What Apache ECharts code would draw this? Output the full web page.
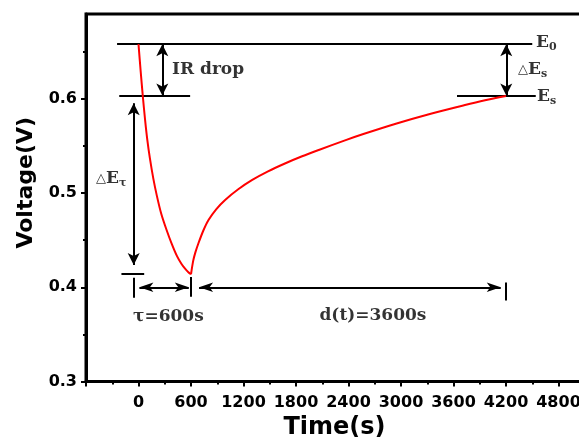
<!DOCTYPE html>
<html><head><meta charset="utf-8">
<script src="https://cdn.jsdelivr.net/npm/echarts@6/dist/echarts.min.js"></script>
<style>html,body{margin:0;padding:0;background:#fff}#c{width:579px;height:437px}</style>
</head><body><div id="c"></div>
<script>
// ---- data ----
const xTicks = [0, 600, 1200, 1800, 2400, 3000, 3600, 4200, 4800];
const yTicks = [0.3, 0.4, 0.5, 0.6];
const yMinorTicks = [0.35, 0.45, 0.55, 0.65];

const dischargeTime = [0, 25, 50, 75, 100, 130, 170, 210, 260, 320, 380, 440, 490, 530, 570, 600];
const dischargeV    = [0.658, 0.629, 0.602, 0.578, 0.557, 0.537, 0.515, 0.497, 0.478, 0.461, 0.446, 0.433, 0.425, 0.420, 0.416, 0.4138];

const recoveryTime = [600, 625, 650, 685, 740, 800, 890, 990, 1140, 1300, 1480, 1680, 1870, 2060, 2360, 2570, 2950, 3330, 3720, 3960, 4200];
const recoveryV    = [0.4138, 0.428, 0.437, 0.4467, 0.460, 0.4714, 0.4830, 0.4927, 0.5040, 0.5139, 0.5230, 0.5316, 0.5390, 0.5457, 0.5559, 0.5626, 0.5738, 0.5839, 0.5931, 0.5984, 0.6030];

// annotation geometry in data units
const hLines  = [[-245, 4500, 0.658], [-220, 590, 0.6034], [3640, 4540, 0.6034], [-195, 65, 0.4145]]; // [t1, t2, V]
const vTicks  = [[-55, 0.410, 0.389], [600, 0.411, 0.390], [4200, 0.405, 0.386]];                       // [t, V1, V2]
const vArrows = [[272, 0.658, 0.6034], [4203, 0.658, 0.6034], [-55, 0.5953, 0.4237]];                  // [t, V1, V2]
const hArrows = [[10, 575, 0.4], [692, 4140, 0.4]];                                                     // [t1, t2, V]
const notes = [
  ['{m|IR drop}', 383, 0.6312],
  ['{m|E}{s|0}', 4543, 0.6593],
  ['{t|△}{m|E}{s|s}', 4337, 0.6307],
  ['{m|E}{s|s}', 4554, 0.602],
  ['{t|△}{m|E}{s|τ}', -486, 0.515],
  ['{m|τ=600s}', -63, 0.3685],
  ['{m|d(t)=3600s}', 2068, 0.3695]
];

// ---- build ----
const zip = (a, b) => a.map((v, i) => [v, b[i]]);
const mlData = [];
hLines.forEach(h => mlData.push([{coord: [h[0], h[2]], symbol: 'none'}, {coord: [h[1], h[2]], symbol: 'none'}]));
vTicks.forEach(v => mlData.push([{coord: [v[0], v[1]], symbol: 'none'}, {coord: [v[0], v[2]], symbol: 'none'}]));
vArrows.forEach(v => mlData.push([
  {coord: [v[0], v[1]], symbol: 'arrow', symbolSize: [9, 12]},
  {coord: [v[0], v[2]], symbol: 'arrow', symbolSize: [9, 12]}]));
hArrows.forEach(h => mlData.push([
  {coord: [h[0], h[2]], symbol: 'arrow', symbolSize: [7, 14]},
  {coord: [h[1], h[2]], symbol: 'arrow', symbolSize: [7, 14]}]));

const serif = {fontFamily: 'DejaVu Serif', fontWeight: 'bold', color: '#000'};
const sansB = {fontFamily: 'DejaVu Sans', fontWeight: 'bold', color: '#000'};

const chart = echarts.init(document.getElementById('c'), null, {renderer: 'canvas'});
chart.setOption({
  animation: false,
  backgroundColor: '#fff',
  grid: {left: 86, right: -32, top: 14, bottom: 55.5, containLabel: false, outerBoundsMode: 'none',
         show: true, borderColor: '#000', borderWidth: 3},
  xAxis: {
    type: 'value', min: -600, max: 5400, interval: 600,
    name: 'Time(s)', nameLocation: 'middle', nameGap: 30,
    nameTextStyle: Object.assign({fontSize: 24, padding: [0, 28, 0, 0]}, sansB),
    axisLine: {onZero: false, lineStyle: {color: '#000', width: 3}},
    axisTick: {length: 5, lineStyle: {color: '#000', width: 2}},
    minorTick: {show: true, splitNumber: 2, length: 3, lineStyle: {color: '#000', width: 2}},
    splitLine: {show: false}, minorSplitLine: {show: false},
    axisLabel: Object.assign({margin: 13, fontSize: 16, hideOverlap: false,
      formatter: v => xTicks.indexOf(v) >= 0 ? String(v) : ''}, sansB)
  },
  yAxis: [{
    type: 'value', min: 0.3, max: 0.69, interval: 0.1, position: 'left',
    name: 'Voltage(V)', nameLocation: 'middle', nameGap: 48,
    nameTextStyle: Object.assign({fontSize: 22, padding: [0, 0, 0, 30]}, sansB),
    axisLine: {show: true, onZero: false, lineStyle: {color: '#000', width: 3}},
    axisTick: {length: 5, customValues: yTicks, lineStyle: {color: '#000', width: 2}},
    minorTick: {show: false},
    splitLine: {show: false},
    axisLabel: Object.assign({margin: 9, fontSize: 16, customValues: yTicks,
      formatter: v => v.toFixed(1)}, sansB)
  }, {
    type: 'value', min: 0.3, max: 0.69, interval: 0.1, position: 'left',
    axisLine: {show: false, onZero: false},
    axisTick: {length: 3, customValues: yMinorTicks, lineStyle: {color: '#000', width: 2}},
    axisLabel: {show: false}, splitLine: {show: false}
  }],
  series: [
    {type: 'line', data: zip(dischargeTime, dischargeV), smooth: 0.3, showSymbol: false,
     lineStyle: {color: '#ff0000', width: 2}, z: 5},
    {type: 'line', data: zip(recoveryTime, recoveryV), smooth: 0.3, showSymbol: false,
     lineStyle: {color: '#ff0000', width: 2}, z: 5},
    {type: 'scatter', symbolSize: 0.001, silent: true, z: 4,
     data: notes.map(n => ({value: [n[1], n[2]], fmt: n[0]})),
     label: {show: true, position: 'right', distance: 0, color: '#000', textBorderWidth: 0,
       formatter: p => p.data.fmt,
       rich: {
         m: Object.assign({fontSize: 17, lineHeight: 20}, serif),
         s: Object.assign({fontSize: 11, lineHeight: 8, verticalAlign: 'bottom'}, serif),
         t: {fontFamily: 'DejaVu Sans', fontSize: 13, color: '#000', lineHeight: 20}
       }},
     markLine: {silent: true, animation: false, symbol: ['none', 'none'],
       label: {show: false},
       lineStyle: {color: '#000', width: 2, type: 'solid'},
       emphasis: {disabled: true},
       data: mlData}
    }
  ]
});
</script></body></html>
